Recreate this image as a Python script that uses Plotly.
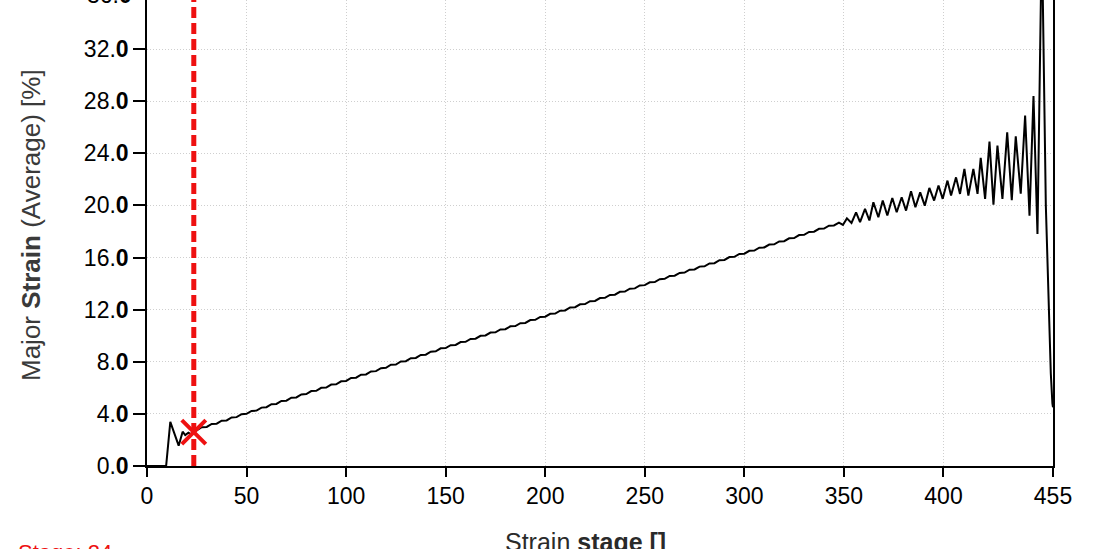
import plotly.graph_objects as go

# ---- data ----
stage = [0, 9.6, 11.7, 15.9, 17.9, 19.2, 20.8, 22.0, 23.5,
         25, 27.5, 30, 32.5, 35, 37.5, 40, 42.5, 45, 47.5, 50, 52.5, 55, 57.5, 60, 62.5, 65, 67.5,
         70, 72.5, 75, 77.5, 80, 82.5, 85, 87.5, 90, 92.5, 95, 97.5, 100, 102.5, 105, 107.5,
         110, 112.5, 115, 117.5, 120, 122.5, 125, 127.5, 130, 132.5, 135, 137.5, 140, 142.5,
         145, 147.5, 150, 152.5, 155, 157.5, 160, 162.5, 165, 167.5, 170, 172.5, 175, 177.5,
         180, 182.5, 185, 187.5, 190, 192.5, 195, 197.5, 200, 202.5, 205, 207.5, 210, 212.5,
         215, 217.5, 220, 222.5, 225, 227.5, 230, 232.5, 235, 237.5, 240, 242.5, 245, 247.5,
         250, 252.5, 255, 257.5, 260, 262.5, 265, 267.5, 270, 272.5, 275, 277.5, 280, 282.5,
         285, 287.5, 290, 292.5, 295, 297.5, 300, 302.5, 305, 307.5, 310, 312.5, 315, 317.5,
         320, 322.5, 325, 327.5, 330, 332.5, 335, 337.5, 340, 342.5, 345,
         347.5, 349.5, 351.5, 353.8, 356.1, 358.1, 360.6, 362.8, 364.8, 367.3, 369.5, 371.8,
         374.3, 376.5, 379.0, 381.2, 383.7, 385.9, 388.3, 390.6, 392.9, 395.3, 397.5, 399.6,
         402.0, 403.8, 406.3, 408.3, 410.5, 412.5, 415.0, 417.1, 418.7, 420.9, 423.1, 425.1,
         427.1, 429.6, 432.0, 434.3, 436.3, 438.8, 441.0, 443.2, 445.2, 447.2, 449.4, 451.4,
         452.4, 453.2, 453.9, 454.7, 455]
major_strain = [0.0, 0.0, 3.39, 1.56, 2.63, 2.37, 2.55, 2.45, 2.60,
                2.75, 2.98, 3.00, 3.23, 3.25, 3.48, 3.50, 3.73, 3.75, 3.98, 4.00, 4.23, 4.25, 4.48, 4.51, 4.74, 4.76, 4.99,
                5.01, 5.24, 5.26, 5.49, 5.52, 5.75, 5.77, 6.00, 6.02, 6.25, 6.27, 6.50, 6.53, 6.76, 6.78, 7.01,
                7.03, 7.26, 7.28, 7.51, 7.54, 7.77, 7.79, 8.02, 8.04, 8.27, 8.29, 8.52, 8.54, 8.77,
                8.80, 9.03, 9.05, 9.27, 9.29, 9.51, 9.53, 9.75, 9.77, 9.99, 10.02, 10.24, 10.26, 10.48,
                10.50, 10.72, 10.74, 10.96, 10.98, 11.20, 11.22, 11.44, 11.46, 11.68, 11.70, 11.92, 11.94, 12.17,
                12.19, 12.41, 12.43, 12.65, 12.67, 12.89, 12.91, 13.13, 13.15, 13.37, 13.39, 13.61, 13.63, 13.86,
                13.88, 14.10, 14.12, 14.34, 14.36, 14.58, 14.60, 14.82, 14.84, 15.06, 15.08, 15.30, 15.32, 15.54,
                15.56, 15.79, 15.81, 16.03, 16.05, 16.27, 16.29, 16.51, 16.53, 16.75, 16.77, 16.99, 17.01, 17.23,
                17.25, 17.47, 17.49, 17.72, 17.74, 17.96, 17.98, 18.20, 18.22, 18.44, 18.46,
                18.68, 18.50, 19.00, 18.65, 19.47, 18.71, 19.73, 18.84, 20.24, 19.09, 20.37, 19.22,
                20.57, 19.47, 20.62, 19.60, 21.08, 19.86, 21.00, 19.98, 21.34, 20.37, 21.52, 20.50,
                21.90, 20.75, 22.15, 20.88, 22.80, 20.75, 22.80, 20.88, 23.64, 20.50, 24.90, 20.06,
                24.58, 20.50, 25.60, 20.40, 25.30, 20.90, 26.90, 19.20, 28.40, 17.80, 41.00, 20.00,
                14.00, 10.20, 7.10, 4.80, 4.50]

selected_stage = [23.5]
selected_strain = [2.6]

x_ticks = [0, 50, 100, 150, 200, 250, 300, 350, 400, 455]
y_ticks = [0, 4, 8, 12, 16, 20, 24, 28, 32]
y_tick_labels = ["0.<b>0</b>", "4.<b>0</b>", "8.<b>0</b>", "12.<b>0</b>", "16.<b>0</b>",
                 "20.<b>0</b>", "24.<b>0</b>", "28.<b>0</b>", "32.<b>0</b>"]

FONT = "Arial, Liberation Sans, sans-serif"
RED = "#ee1111"

fig = go.Figure()
fig.add_trace(go.Scatter(x=stage, y=major_strain, mode="lines",
                         line=dict(color="black", width=2), showlegend=False,
                         hoverinfo="skip"))
fig.add_trace(go.Scatter(x=selected_stage, y=selected_strain, mode="markers",
                         marker=dict(symbol="x-thin", size=24, color=RED,
                                     line=dict(color=RED, width=4)),
                         showlegend=False, cliponaxis=False))

fig.add_shape(type="line", xref="x", yref="paper", x0=selected_stage[0], x1=selected_stage[0],
              y0=0, y1=1, line=dict(color=RED, width=5, dash="11px,5px"), layer="above")

W, H = 1109, 549
L, R, T, B = 147, 56, 0, 83
pw, ph = W - L - R, H - T - B


def px(xp):
    return (xp - L) / pw


def py(yp):
    return (H - B - yp) / ph


fig.update_layout(
    width=W, height=H,
    margin=dict(l=L, r=R, t=T, b=B),
    plot_bgcolor="white", paper_bgcolor="white",
    font=dict(family=FONT, size=23, color="black"),
    xaxis=dict(range=[0, 455], tickvals=x_ticks, ticktext=[str(v) for v in x_ticks],
               showline=True, linecolor="black", linewidth=1.5, ticks="outside", ticklen=9,
               tickcolor="black", tickwidth=1.5, showgrid=True, gridcolor="#cfcfcf",
               griddash="1px,2px", gridwidth=1, zeroline=False, mirror=False,
               tickfont=dict(size=23, family=FONT, color="black")),
    yaxis=dict(range=[0, 35.76], tickvals=y_ticks, ticktext=y_tick_labels,
               showline=True, linecolor="black", linewidth=1.5, ticks="outside", ticklen=12,
               tickcolor="black", tickwidth=1.5, showgrid=True, gridcolor="#cfcfcf",
               griddash="1px,2px", gridwidth=1, zeroline=False, mirror=True,
               tickfont=dict(size=23, family=FONT, color="black")),
    annotations=[
        dict(text="36.<b>0</b>", xref="paper", yref="paper", x=px(134), y=py(-5),
             xanchor="right", yanchor="middle", showarrow=False,
             font=dict(size=23, family=FONT, color="black")),
        dict(text="Major <b>Strain</b> (Average) [%]", xref="paper", yref="paper",
             x=px(31), y=py(225), xanchor="center", yanchor="middle", textangle=-90,
             showarrow=False, font=dict(size=26, family=FONT, color="#3a3a3a")),
        dict(text="Strain <b>stage []</b>", xref="paper", yref="paper",
             x=px(585), y=py(526), xanchor="center", yanchor="top",
             showarrow=False, font=dict(size=25, family=FONT, color="#2a2a2a")),
        dict(text="Stage: 24", xref="paper", yref="paper",
             x=px(16), y=py(538), xanchor="left", yanchor="top",
             showarrow=False, font=dict(size=22, family=FONT, color=RED)),
    ],
)

fig.write_html("out.html", config={"displayModeBar": False},
               post_script="document.body.style.margin='0px';document.body.style.overflow='hidden';")
